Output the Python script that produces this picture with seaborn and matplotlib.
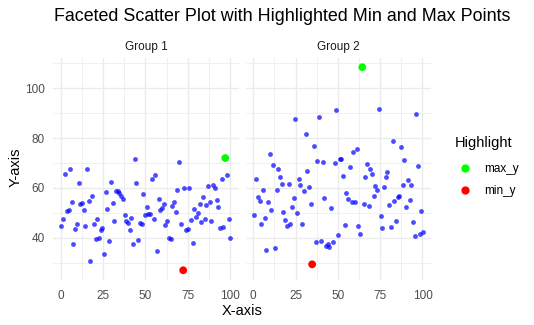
import matplotlib
matplotlib.use("Agg")
import matplotlib.pyplot as plt
import seaborn as sns
import pandas as pd
from matplotlib.lines import Line2D

sns.set_theme(style="whitegrid")
plt.rcParams['font.family'] = ['Liberation Sans', 'DejaVu Sans']

groups = ["Group 1", "Group 2"]

x_group1 = [0.4, 1.6, 2.8, 3.9, 4.7, 5.7, 6.9, 7.5, 8.6, 9.8, 11.0, 11.6, 12.8, 14.0, 14.5, 15.7, 16.9, 17.5, 18.7, 19.8,
            21.0, 21.6, 22.8, 24.0, 24.6, 25.7, 26.9, 27.5, 28.7, 29.9, 31.0, 31.6, 32.8, 34.0, 34.6, 35.8, 36.9, 38.1, 38.7, 39.9,
            41.0, 41.6, 42.8, 44.0, 44.6, 45.8, 47.0, 48.1, 48.7, 49.9, 51.1, 51.7, 52.8, 54.0, 55.2, 55.8, 57.0, 58.1, 58.7, 59.9,
            61.1, 61.7, 62.9, 64.0, 65.2, 65.8, 67.0, 68.2, 68.8, 69.9, 71.1, 72.3, 72.9, 74.1, 75.2, 75.8, 77.0, 78.2, 78.8, 79.9,
            81.1, 82.3, 82.9, 84.1, 85.3, 85.9, 87.0, 88.2, 88.8, 90.0, 91.2, 92.4, 92.9, 94.1, 95.3, 95.9, 97.1, 98.2, 99.4, 100.0]
y_group1 = [44.5, 47.7, 65.7, 50.9, 51.3, 67.5, 54.5, 37.3, 43.3, 45.7,
            62.1, 53.7, 54.1, 51.3, 44.5, 67.7, 54.9, 30.5, 56.9, 45.3,
            39.3, 47.7, 39.7, 42.9, 43.7, 33.3, 58.5, 51.7, 38.5, 62.5,
            54.1, 46.9, 58.9, 58.9, 58.1, 56.9, 55.7, 49.3, 46.9, 46.1,
            42.9, 48.1, 37.3, 71.5, 62.1, 38.9, 46.1, 45.3, 57.7, 49.3,
            52.5, 49.7, 49.7, 63.7, 47.7, 65.3, 34.5, 55.7, 51.3, 52.1,
            53.7, 44.9, 46.9, 39.7, 39.3, 52.9, 54.5, 50.5, 59.3, 70.5,
            45.3, 26.9, 60.1, 42.9, 43.3, 60.1, 47.3, 37.7, 51.7, 48.5,
            50.1, 53.7, 46.5, 56.5, 47.7, 53.3, 60.9, 54.5, 46.9, 61.3,
            60.1, 55.3, 52.5, 43.7, 63.7, 44.1, 72.0, 65.3, 47.7, 39.7]

x_group2 = [0.6, 1.8, 3.0, 4.1, 4.7, 5.9, 7.1, 7.7, 8.9, 10.0, 10.6, 11.8, 13.0, 14.2, 14.8, 15.9, 17.1, 17.7, 18.9, 20.1,
            21.3, 21.9, 23.0, 24.2, 24.8, 26.0, 27.2, 27.8, 29.0, 30.1, 31.3, 31.9, 33.1, 34.3, 34.8, 36.0, 37.2, 37.8, 39.0, 40.2,
            41.3, 41.9, 43.1, 44.3, 44.9, 46.1, 47.2, 48.4, 49.0, 50.2, 51.4, 52.0, 53.1, 54.3, 54.9, 56.1, 57.3, 58.5, 59.1, 60.2,
            61.4, 62.0, 63.2, 64.4, 65.6, 66.1, 67.3, 68.5, 69.1, 70.3, 71.5, 72.0, 73.2, 74.4, 75.6, 76.2, 77.4, 78.5, 79.1, 80.3,
            81.5, 82.7, 83.3, 84.4, 85.6, 86.2, 87.4, 88.6, 89.2, 90.4, 91.5, 92.7, 93.3, 94.5, 95.7, 96.3, 97.4, 98.6, 99.2, 100.4]
y_group2 = [49.3, 63.7, 56.5, 54.9, 45.7, 59.3, 48.1, 34.9, 54.5, 73.7,
            51.3, 69.3, 35.7, 59.3, 67.7, 64.5, 61.7, 50.5, 47.3, 44.5,
            61.7, 45.7, 52.5, 56.1, 87.7, 50.1, 63.7, 61.3, 45.7, 58.9,
            81.7, 66.9, 60.5, 53.7, 29.3, 76.9, 38.1, 70.9, 88.5, 38.5,
            70.5, 56.1, 36.5, 37.3, 36.1, 52.1, 38.1, 70.1, 91.3, 40.9,
            71.7, 71.7, 64.9, 44.9, 58.1, 55.7, 68.5, 54.5, 74.5, 54.5,
            75.7, 44.5, 41.3, 108.5, 53.7, 64.5, 69.7, 52.9, 67.7, 65.7,
            56.9, 60.9, 59.3, 91.7, 48.9, 43.7, 60.5, 64.5, 66.5, 53.3,
            44.1, 78.9, 54.9, 46.9, 56.5, 56.9, 76.5, 61.3, 71.3, 52.5,
            63.3, 55.3, 61.3, 46.5, 40.5, 89.7, 68.9, 41.3, 50.9, 42.1]

x_ticks = [0, 25, 50, 75, 100]
y_ticks = [40, 60, 80, 100]
highlight_labels = ["max_y", "min_y"]
highlight_colors = {"max_y": "#00FF00", "min_y": "#FF0000"}

df = pd.DataFrame({
    "group": [groups[0]] * len(x_group1) + [groups[1]] * len(x_group2),
    "x": x_group1 + x_group2,
    "y": y_group1 + y_group2,
})

W, H = 534, 325
fig = plt.figure(figsize=(W / 96, H / 96), dpi=96)
fig.patch.set_facecolor("white")
top_px, bot_px = 57.5, 280.0
ax1 = fig.add_axes([53 / W, 1 - bot_px / H, 186 / W, (bot_px - top_px) / H])
ax2 = fig.add_axes([245.6 / W, 1 - bot_px / H, 185.7 / W, (bot_px - top_px) / H], sharey=ax1)
axes = [ax1, ax2]

for i, (ax, g) in enumerate(zip(axes, groups)):
    sub = df[df["group"] == g]
    ax.set_facecolor("white")
    ax.set_axisbelow(True)
    sns.scatterplot(data=sub, x="x", y="y", color="blue", alpha=0.7, s=13,
                    linewidth=0, ax=ax, legend=False, zorder=3)
    hi = pd.concat([sub.loc[[sub["y"].idxmax()]].assign(type="max_y"),
                    sub.loc[[sub["y"].idxmin()]].assign(type="min_y")])
    sns.scatterplot(data=hi, x="x", y="y", hue="type", palette=highlight_colors,
                    s=34, linewidth=0, ax=ax, legend=False, zorder=4)
    ax.set_xlim(-4.5, 105.2)
    ax.set_ylim(23.0, 112.4)
    ax.set_xticks(x_ticks)
    ax.set_xticks([12.5, 37.5, 62.5, 87.5], minor=True)
    ax.set_yticks(y_ticks)
    ax.set_yticks([30, 50, 70, 90, 110], minor=True)
    ax.grid(which="major", color="#EBEBEB", linewidth=1.05)
    ax.grid(which="minor", color="#EBEBEB", linewidth=0.55)
    for s in ax.spines.values():
        s.set_visible(False)
    ax.tick_params(which="both", length=0, labelsize=8.8, labelcolor="#4D4D4D")
    ax.tick_params(axis="x", pad=7.5)
    ax.tick_params(axis="y", pad=6)
    ax.set_title(g, fontsize=8.8, color="#1A1A1A", pad=5.5)
    ax.set_xlabel("")
    ax.set_ylabel("")
    if i == 1:
        ax.tick_params(axis="y", labelleft=False)

fig.text(54 / W, 1 - 16.5 / H, "Faceted Scatter Plot with Highlighted Min and Max Points",
         fontsize=13.4, color="black", ha="left", va="center")
fig.text(242 / W, 1 - 311 / H, "X-axis", fontsize=11, color="black", ha="center", va="center")
fig.text(15.5 / W, 1 - 167 / H, "Y-axis", fontsize=11, color="black", ha="center", va="center",
         rotation=90)
fig.text(455 / W, 1 - 143 / H, "Highlight", fontsize=11, color="black", ha="left", va="center")

handles = [Line2D([0], [0], marker="o", linestyle="", markersize=6.2,
                  markerfacecolor=highlight_colors[k], markeredgewidth=0)
           for k in highlight_labels]
leg = fig.legend(handles, highlight_labels, loc="center left",
                 bbox_to_anchor=(454.5 / W, 1 - 180 / H), frameon=False,
                 fontsize=8.8, handlelength=1.0,
                 handletextpad=1.12, labelspacing=0.85, borderaxespad=0)
for t in leg.get_texts():
    t.set_color("#000000")

fig.savefig("out.png", dpi=96, facecolor="white")
